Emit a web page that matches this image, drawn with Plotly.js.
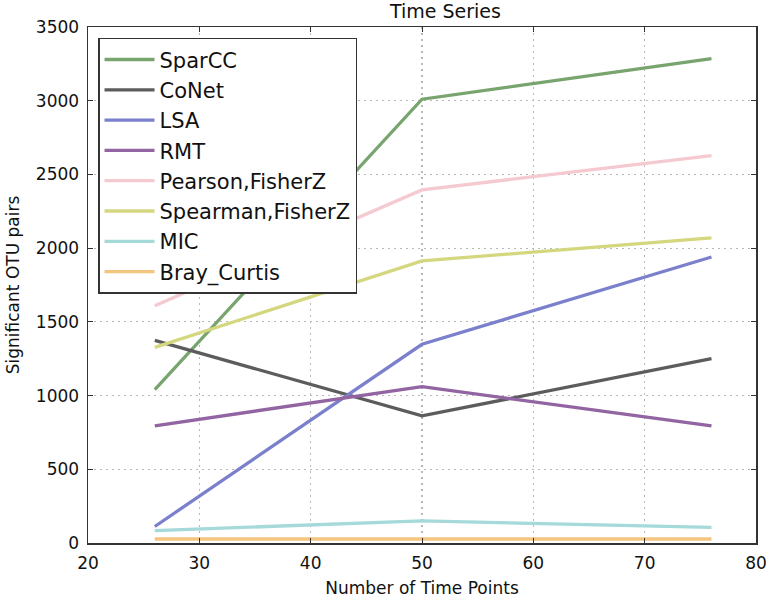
<!DOCTYPE html>
<html><head><meta charset="utf-8">
<script src="https://cdn.plot.ly/plotly-3.0.1.min.js"></script>
<style>body{margin:0;background:#fff}#c{width:768px;height:599px}</style>
</head><body><div id="c"></div>
<script>
const timePoints = [26, 50, 76];
const sparcc = [1040, 3010, 3285];
const conet = [1375, 862, 1250];
const lsa = [112, 1348, 1940];
const rmt = [795, 1060, 795];
const pearson = [1610, 2395, 2628];
const spearman = [1327, 1913, 2070];
const mic = [84, 150, 106];
const bray = [27, 27, 27];
const names = ["SparCC","CoNet","LSA","RMT","Pearson,FisherZ","Spearman,FisherZ","MIC","Bray_Curtis"];
const series = [sparcc, conet, lsa, rmt, pearson, spearman, mic, bray];
const colors = ["#78a46e","#5c5c5c","#7b80cc","#9264a2","#f5c9d0","#d4d77e","#a6d9d9","#f3c57e"];
const traces = series.map((s,i)=>({x:timePoints,y:s,name:names[i],legendgroup:'g'+i,type:'scatter',mode:'lines',
  line:{color:colors[i],width:3.3}}));
const ax = {showline:true,linecolor:'#333',linewidth:1.5,mirror:'all',ticks:'inside',ticklen:5,tickcolor:'#333',
  showgrid:true,gridcolor:'#b8b8b8',griddash:'2px,4px',gridwidth:1.2,zeroline:false,
  tickfont:{family:'DejaVu Sans',size:17,color:'#111'}};
Plotly.newPlot('c',traces,{
  width:768,height:599,margin:{l:88,r:12,t:27,b:56},
  paper_bgcolor:'#fff',plot_bgcolor:'#fff',
  title:{text:'Time Series',font:{family:'DejaVu Sans',size:19,color:'#111'},x:0.535,xref:'paper',
    yref:'container',y:0.993,yanchor:'top',pad:{t:0,b:0}},
  xaxis:Object.assign({},ax,{range:[20,80],tickvals:[20,30,40,50,60,70,80],ticklabelstandoff:4,
    title:{text:'Number of Time Points',font:{family:'DejaVu Sans',size:17,color:'#111'},standoff:10}}),
  yaxis:Object.assign({},ax,{range:[0,3500],tickvals:[0,500,1000,1500,2000,2500,3000,3500],ticklabelstandoff:4,
    title:{text:'Significant OTU pairs',font:{family:'DejaVu Sans',size:17,color:'#111'},standoff:12}}),
  legend:{x:0.015,y:0.979,xanchor:'left',yanchor:'top',bgcolor:'#fff',bordercolor:'#333',borderwidth:1.5,
    font:{family:'DejaVu Sans',size:21,color:'#111'},tracegroupgap:0,itemwidth:50},
  showlegend:true
},{staticPlot:true});
</script></body></html>
